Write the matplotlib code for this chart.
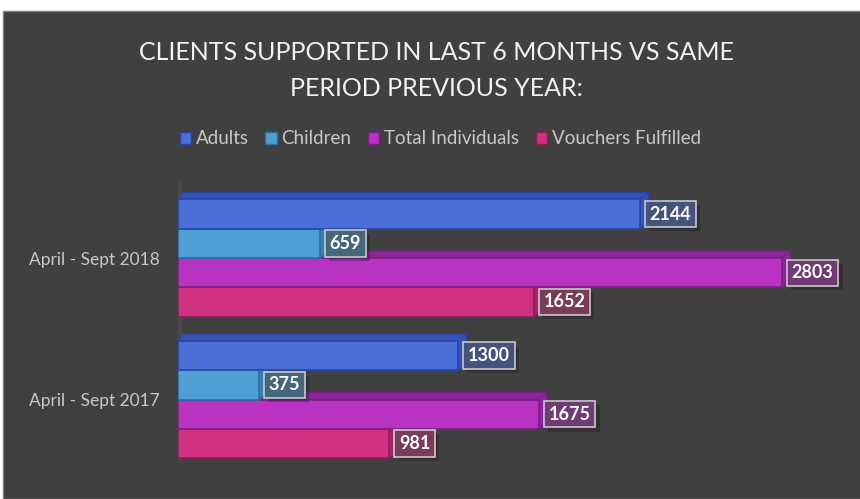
#!/usr/bin/env python3
import matplotlib
matplotlib.use('Agg')
import matplotlib.pyplot as plt
from matplotlib.patches import Polygon, Rectangle
import matplotlib.patheffects as pe

# Data (bottom category first)
periods = ['April - Sept 2017', 'April - Sept 2018']
series_names = ['Adults', 'Children', 'Total Individuals', 'Vouchers Fulfilled']
adults = [1300, 2144]
children = [375, 659]
total_individuals = [1675, 2803]
vouchers_fulfilled = [981, 1652]

series = [adults, children, total_individuals, vouchers_fulfilled]
face_colors = ['#4a6fd6', '#4f9fd4', '#b833c2', '#d03080']
edge_colors = ['#2846a8', '#2a70a8', '#7a1f88', '#8c1f5a']
side_colors = ['#3553b4', '#3b80b4', '#8c2698', '#a42566']
bg = '#404040'

plt.rcParams['font.family'] = ['Lato', 'DejaVu Sans']

fig = plt.figure(figsize=(8.6, 4.99), dpi=100, facecolor='white')
fig.patches.append(Rectangle((3 / 860, 0), 1, 1 - 11 / 499, transform=fig.transFigure,
                             facecolor=bg, edgecolor='#7f7f7f', linewidth=1, zorder=-5))

# axes placed so that 0 sits at x=178px and the scale matches the picture
ax = fig.add_axes([178 / 860, 29 / 499, 646.5 / 860, 295 / 499])
ax.set_zorder(2)
ax.set_facecolor('none')
ax.set_xlim(0, 3000)
ax.set_ylim(-0.498, 1.587)
for s in ax.spines.values():
    s.set_visible(False)
ax.set_xticks([])

px_x = 3000 / 646.5   # data units per pixel
px_y = 1 / 141.5
dx, dy = 8 * px_x, 7 * px_y
h = 0.207
offsets = [1.5 * h, 0.5 * h, -0.5 * h, -1.5 * h]

# faint side wall
y_lo, y_hi = -0.498 + 2 * px_y, 1.587 - 12 * px_y
ax.add_patch(Polygon([(-3 * px_x, y_lo), (-3 * px_x, y_hi), (4 * px_x, y_hi + 8 * px_y),
                      (4 * px_x, y_lo + 8 * px_y)], closed=True, facecolor='#4b4b4b',
                     edgecolor='none', zorder=1))

# draw bottom bars first so upper bars hide their top faces
for i in [3, 2, 1, 0]:
    vals = series[i]
    for j, v in enumerate(vals):
        yc = j + offsets[i]
        yb, yt = yc - h / 2, yc + h / 2
        ax.add_patch(Polygon([(0, yt), (v, yt), (v + dx, yt + dy), (dx * 0.6, yt + dy)],
                             closed=True, facecolor=side_colors[i], edgecolor=edge_colors[i],
                             linewidth=0.8, zorder=2 + (3 - i)))
        ax.add_patch(Polygon([(v, yb), (v, yt), (v + dx, yt + dy), (v + dx, yb + dy)],
                             closed=True, facecolor=side_colors[i], edgecolor=edge_colors[i],
                             linewidth=0.8, zorder=2 + (3 - i)))
        ax.barh(yc, v, height=h, color=face_colors[i], edgecolor=edge_colors[i],
                linewidth=1.2, zorder=2.5 + (3 - i))

# value labels
for i, vals in enumerate(series):
    r, g, b = matplotlib.colors.to_rgb(face_colors[i])
    mix = 0.4
    box_fc = (r * mix + 0.251 * (1 - mix), g * mix + 0.251 * (1 - mix), b * mix + 0.251 * (1 - mix))
    for j, v in enumerate(vals):
        t = ax.annotate(str(v), xy=(v, j + offsets[i]), xytext=(7, 0), textcoords='offset points',
                        ha='left', va='center', fontsize=13, fontweight='bold', color='white',
                        bbox=dict(boxstyle='square,pad=0.26', fc=box_fc, ec='#c8c8c8', lw=1.2),
                        zorder=20)
        t.get_bbox_patch().set_path_effects([pe.SimplePatchShadow(offset=(3, -3), alpha=0.35),
                                             pe.Normal()])

ax.set_yticks([0, 1])
ax.set_yticklabels(periods, fontsize=12.5, color='#c8c8c8')
ax.tick_params(axis='y', length=0, pad=13)

fig.text(0.508, 1 - 52 / 499, 'CLIENTS SUPPORTED IN LAST 6 MONTHS VS SAME',
         ha='center', va='center', fontsize=18, color='#f2f2f2')
fig.text(0.508, 1 - 88 / 499, 'PERIOD PREVIOUS YEAR:',
         ha='center', va='center', fontsize=18, color='#f2f2f2')

handles = [Rectangle((0, 0), 1, 1, facecolor=face_colors[i], edgecolor=edge_colors[i], lw=1)
           for i in range(4)]
leg = fig.legend(handles, series_names, loc='center', bbox_to_anchor=(0.512, 1 - 139 / 499),
                 ncol=4, frameon=False, fontsize=13.5, handlelength=0.6, handleheight=0.6,
                 handletextpad=0.25, columnspacing=0.9)
for txt in leg.get_texts():
    txt.set_color('#c8c8c8')

fig.savefig('out.png', dpi=100, facecolor=fig.get_facecolor())
